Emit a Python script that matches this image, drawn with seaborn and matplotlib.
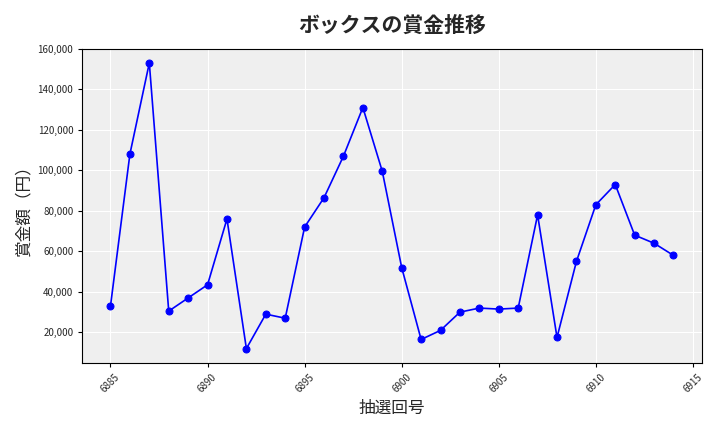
import matplotlib
matplotlib.use('Agg')
import matplotlib.pyplot as plt
import seaborn as sns
from matplotlib.ticker import FuncFormatter

draws = list(range(6885, 6915))
prizes = [33000, 108000, 153000, 30500, 37000, 43500, 76000, 12000, 29000, 27000,
          72000, 86500, 107000, 131000, 99500, 52000, 16500, 21000, 30000, 32000,
          31500, 32000, 78000, 17500, 55000, 83000, 93000, 68000, 64000, 58000]

sns.set_style('darkgrid', {'axes.facecolor': '#efefef', 'grid.color': 'white',
                           'axes.edgecolor': 'black', 'xtick.bottom': True,
                           'ytick.left': True})
plt.rcParams['font.family'] = ['Noto Sans CJK JP', 'DejaVu Sans']

fig, ax = plt.subplots(figsize=(7.2, 4.32), dpi=100)
sns.lineplot(x=draws, y=prizes, ax=ax, color='blue', marker='o',
             markersize=5, markeredgecolor='blue', linewidth=1.2)
ax.set_title('ボックスの賞金推移', fontsize=15, fontweight='bold', pad=12)
ax.set_xlabel('抽選回号', fontsize=12)
ax.set_ylabel('賞金額（円）', fontsize=12)
ax.yaxis.set_major_formatter(FuncFormatter(lambda v, p: f'{int(v):,}'))
ax.tick_params(axis='x', labelrotation=45, labelsize=7, length=3, color='black')
ax.tick_params(axis='y', labelsize=7, length=3, color='black')
for s in ax.spines.values():
    s.set_visible(True)
    s.set_color('black')
fig.tight_layout()
fig.savefig('out.png', dpi=100)
